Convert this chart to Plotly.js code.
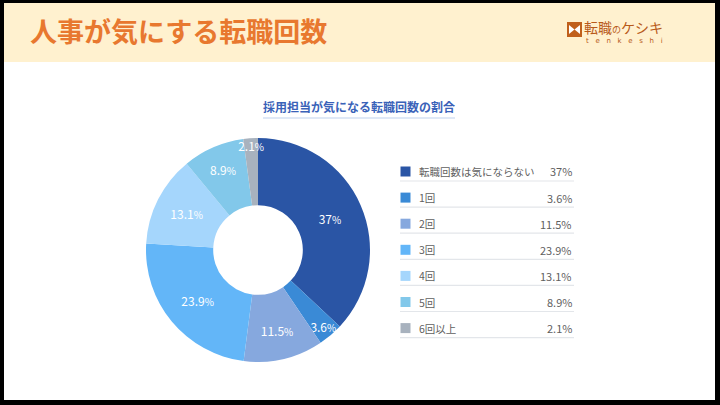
<!DOCTYPE html>
<html>
<head>
<meta charset="utf-8">
<script src="https://cdn.plot.ly/plotly-3.0.1.min.js"></script>
<style>
  body { margin: 0; background: #000; }
  #plot { width: 720px; height: 405px; }
</style>
</head>
<body>
<div id="plot"></div>
<script>
// data
var labels = ["転職回数は気にならない", "1回", "2回", "3回", "4回", "5回", "6回以上"];
var values = [37, 3.6, 11.5, 23.9, 13.1, 8.9, 2.1];
var pctText = ["37%", "3.6%", "11.5%", "23.9%", "13.1%", "8.9%", "2.1%"];
var colors = ["#2a55a5", "#3a8ad6", "#86a8de", "#63b6f8", "#a5d6fc", "#82c8ea", "#a8b2be"];

var W = 720, H = 405;
function px(x) { return x / W; }
function py(y) { return 1 - y / H; }
var font = "Noto Sans CJK JP, Noto Sans, sans-serif";

var trace = {
  type: "pie",
  values: values,
  labels: labels,
  text: pctText.map(function (t) { return t.replace("%", "<span style='font-size:10px'>%</span>"); }),
  textinfo: "text",
  textposition: "inside",
  insidetextorientation: "horizontal",
  textfont: { family: font, size: 12, color: "#ffffff" },
  marker: { colors: colors, line: { width: 0 } },
  hole: 0.4,
  sort: false,
  direction: "clockwise",
  rotation: 0,
  showlegend: false,
  domain: { x: [px(146), px(370)], y: [py(362), py(138)] }
};

var shapes = [
  // white card inside the black frame
  { type: "rect", xref: "paper", yref: "paper", x0: px(4), x1: px(715), y0: py(400), y1: py(3),
    fillcolor: "#ffffff", line: { width: 0 }, layer: "below" },
  // cream header band
  { type: "rect", xref: "paper", yref: "paper", x0: px(4), x1: px(715), y0: py(62), y1: py(3),
    fillcolor: "#fff1cf", line: { width: 0 }, layer: "below" },
  // subtitle underline
  { type: "line", xref: "paper", yref: "paper", x0: px(263), x1: px(455), y0: py(118), y1: py(118),
    line: { color: "#d5e0f3", width: 1.5 } },
  // logo icon
  { type: "rect", xref: "paper", yref: "paper", x0: px(567), x1: px(582), y0: py(37), y1: py(22),
    fillcolor: "#c0601c", line: { width: 0 } },
  { type: "path", xref: "paper", yref: "paper",
    path: "M " + px(569) + " " + py(25) + " L " + px(574.5) + " " + py(29.5) + " L " + px(569) + " " + py(34) + " Z",
    fillcolor: "#ffffff", line: { width: 0 } },
  { type: "path", xref: "paper", yref: "paper",
    path: "M " + px(580) + " " + py(25) + " L " + px(574.5) + " " + py(29.5) + " L " + px(580) + " " + py(34) + " Z",
    fillcolor: "#ffffff", line: { width: 0 } }
];

var annotations = [
  { text: "<b>人事が気にする転職回数</b>", xref: "paper", yref: "paper", x: px(28), y: py(31),
    xanchor: "left", yanchor: "middle", showarrow: false,
    font: { family: font, size: 27, color: "#e8782f" } },
  { text: "<b>採用担当が気になる転職回数の割合</b>", xref: "paper", yref: "paper", x: px(359), y: py(107),
    xanchor: "center", yanchor: "middle", showarrow: false,
    font: { family: font, size: 12, color: "#3a62b8" } },
  { text: "転職<span style='font-size:9px'>の</span>ケシキ", xref: "paper", yref: "paper", x: px(582), y: py(27),
    xanchor: "left", yanchor: "middle", showarrow: false,
    font: { family: font, size: 14, color: "#b85a1a" } },
  { text: "t   e   n   k   e   s   h   i", xref: "paper", yref: "paper", x: px(584), y: py(41),
    xanchor: "left", yanchor: "middle", showarrow: false,
    font: { family: "DejaVu Sans", size: 7, color: "#b85a1a" } }
];

// custom legend: square, label, value and separator per row
var rowTop = 171.5, rowStep = 26.1;
labels.forEach(function (lab, i) {
  var yc = rowTop + i * rowStep;
  shapes.push({ type: "rect", xref: "paper", yref: "paper", x0: px(400.5), x1: px(410.5),
    y0: py(yc + 5), y1: py(yc - 5), fillcolor: colors[i], line: { width: 0 } });
  shapes.push({ type: "line", xref: "paper", yref: "paper", x0: px(400), x1: px(574),
    y0: py(yc + 9.5), y1: py(yc + 9.5), line: { color: "#e3e6ea", width: 1.2 } });
  annotations.push({ text: lab, xref: "paper", yref: "paper", x: px(417), y: py(yc),
    xanchor: "left", yanchor: "middle", showarrow: false,
    font: { family: font, size: 10.5, color: "#5f5f5f" } });
  annotations.push({ text: values[i] + "%", xref: "paper", yref: "paper", x: px(574), y: py(yc),
    xanchor: "right", yanchor: "middle", showarrow: false,
    font: { family: font, size: 11, color: "#5f5f5f" } });
});

var layout = {
  width: W,
  height: H,
  margin: { l: 0, r: 0, t: 0, b: 0 },
  paper_bgcolor: "#000000",
  plot_bgcolor: "#000000",
  uniformtext: { minsize: 12, mode: "show" },
  shapes: shapes,
  annotations: annotations
};

Plotly.newPlot("plot", [trace], layout, { displayModeBar: false, staticPlot: true });
</script>
</body>
</html>
